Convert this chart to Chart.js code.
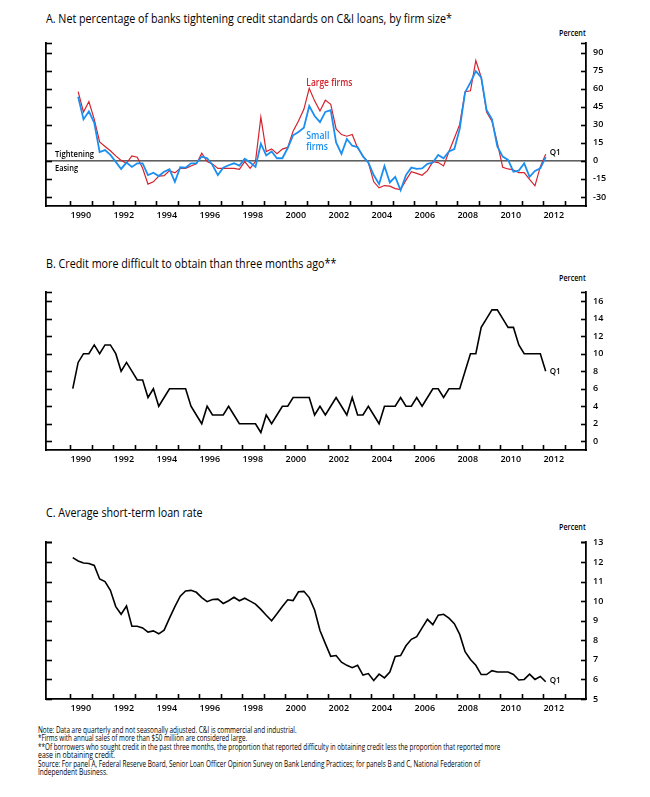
<!DOCTYPE html>
<html>
<head>
<meta charset="utf-8">
<script src="https://cdn.jsdelivr.net/npm/chart.js@4.4.1/dist/chart.umd.min.js"></script>
<style>
  body { margin: 0; background: #fff; width: 650px; height: 797px; position: relative; overflow: hidden; font-family: "Open Sans", sans-serif; color: #000; }
  canvas { position: absolute; left: 0; }
  .txt { position: absolute; white-space: nowrap; line-height: 1; transform-origin: left center; }
  .title { font-size: 12px; }
  .unit { font-size: 8.5px; font-weight: 600; }
  .note { font-family: "Liberation Sans Narrow", "Open Sans", sans-serif; font-size: 9px; }
</style>
</head>
<body>

<div class="txt title" style="left:46px" data-w="406" data-cy="19">A. Net percentage of banks tightening credit standards on C&amp;I loans, by firm size*</div>
<div class="txt unit" style="left:559px" data-w="27" data-cy="33">Percent</div>
<canvas id="chartA" width="650" height="200" style="top:25px"></canvas>

<div class="txt title" style="left:46px" data-w="290" data-cy="264">B. Credit more difficult to obtain than three months ago**</div>
<div class="txt unit" style="left:559px" data-w="27" data-cy="278">Percent</div>
<canvas id="chartB" width="650" height="190" style="top:280px"></canvas>

<div class="txt title" style="left:46px" data-w="157" data-cy="513">C. Average short-term loan rate</div>
<div class="txt unit" style="left:559px" data-w="27" data-cy="527">Percent</div>
<canvas id="chartC" width="650" height="190" style="top:530px"></canvas>

<div class="txt note" style="left:38px" data-w="259" data-cy="729">Note:  Data are quarterly and not seasonally adjusted.  C&amp;I is commercial and industrial.</div>
<div class="txt note" style="left:38px" data-w="209" data-cy="737.5">*Firms with annual sales of more than $50 million are considered large.</div>
<div class="txt note" style="left:38px" data-w="462" data-cy="746">**Of borrowers who sought credit in the past three months, the proportion that reported difficulty in obtaining credit less the proportion that reported more</div>
<div class="txt note" style="left:38px" data-w="77" data-cy="754.5">ease in obtaining credit.</div>
<div class="txt note" style="left:38px" data-w="442" data-cy="763">Source:  For panel A, Federal Reserve Board, Senior Loan Officer Opinion Survey on Bank Lending Practices; for panels B and C, National Federation of</div>
<div class="txt note" style="left:38px" data-w="70" data-cy="771.5">Independent Business.</div>

<script>
// panel A: net percentage tightening, quarterly from 1990 Q2 to 2012 Q1
const largeFirms = [57.5, 40.6, 49.3, 34.5, 15.7, 12, 8.4, 4.2, 0.3, -2,
  4.2, 3, -6.2, -19.3, -17.4, -12.6, -12.3, -8.1, -10, -6.2,
  -6.2, -4.2, -2.5, 6.4, -0.6, -2.5, -6.2, -6.2, -6.2, -6.2,
  -7, -0.6, -6.2, -0.6, 36.4, 7.8, 10, 5.9, 9.8, 11.2,
  24.7, 33.1, 42.9, 60.3, 49.9, 41.5, 50.5, 47.1, 26.6, 21.9,
  20.5, 21.9, 10.7, 4.2, -1.4, -17.4, -22.4, -20.5, -21, -23,
  -23.8, -16, -9, -10.4, -12, -8.1, -0.6, -1.4, -4.2, 7.8,
  18.8, 30.3, 57.5, 58.3, 83.5, 69.5, 40.6, 33.1, 14.9, -5.3,
  -6.7, -7.6, -9.8, -9.8, -15.4, -20.7, -4.8, 5.6];
const smallFirms = [53.3, 34.5, 41.2, 31.7, 7.3, 9, 5, -0.8, -6.7, -1.4,
  -5, -2, -2, -11.8, -9.8, -12.6, -9, -7, -17.4, -5.3,
  -5.6, -2, -2, 3.6, 2.2, -3.4, -11.8, -5.6, -3.6, -2,
  -3.9, 1.7, -1.4, -5, 14.3, 4.5, 7.8, 2.2, 2.2, 10.7,
  21.3, 24.1, 27.5, 45.7, 37.3, 32.2, 40.7, 42.1, 15.4, 5.9,
  18.2, 12.6, 11.5, 3.6, -1.4, -11.8, -19.3, -4.2, -17.9, -13.2,
  -24.4, -11.8, -5.6, -6.7, -6.2, -2.5, -1.4, 5, 2.2, 7.8,
  9.8, 26.6, 56.9, 65.3, 74.6, 69.5, 42.3, 34.5, 12.1, 3.6,
  0.8, -9, -8.1, -2, -13.2, -8.4, -6.2, 3.1];

// panel B: credit more difficult to obtain, 1990 Q1 to 2012 Q1
const creditHarder = [6, 9, 10, 10, 11, 10, 11, 11, 10, 8,
  9, 8, 7, 7, 5, 6, 4, 5, 6, 6,
  6, 6, 4, 3, 2, 4, 3, 3, 3, 4,
  3, 2, 2, 2, 2, 1, 3, 2, 3, 4,
  4, 5, 5, 5, 5, 3, 4, 3, 4, 5,
  4, 3, 5, 3, 3, 4, 3, 2, 4, 4,
  4, 5, 4, 4, 5, 4, 5, 6, 6, 5,
  6, 6, 6, 8, 10, 10, 13, 14, 15, 15,
  14, 13, 13, 11, 10, 10, 10, 10, 8];

// panel C: average short-term loan rate, 1990 Q1 to 2012 Q1
const loanRate = [12.22, 12.05, 11.95, 11.92, 11.82, 11.13, 11.0, 10.55, 9.72, 9.33,
  9.75, 8.72, 8.72, 8.63, 8.42, 8.48, 8.33, 8.52, 9.13, 9.72,
  10.25, 10.52, 10.55, 10.45, 10.18, 9.97, 10.08, 10.1, 9.88, 10.02,
  10.2, 10.02, 10.15, 10.0, 9.85, 9.58, 9.28, 9.0, 9.35, 9.72,
  10.07, 10.03, 10.48, 10.5, 10.18, 9.55, 8.5, 7.83, 7.18, 7.22,
  6.88, 6.72, 6.6, 6.72, 6.22, 6.3, 5.95, 6.27, 6.08, 6.38,
  7.17, 7.22, 7.72, 8.05, 8.18, 8.63, 9.07, 8.8, 9.28, 9.33,
  9.13, 8.85, 8.3, 7.42, 7.02, 6.72, 6.25, 6.25, 6.45, 6.38,
  6.38, 6.38, 6.25, 5.97, 6.0, 6.27, 6.0, 6.15, 5.88];

const yearLabels = [1990, 1992, 1994, 1996, 1998, 2000, 2002, 2004, 2006, 2008, 2010, 2012];
const yearMarks = [1990, 1991, 1992, 1993, 1994, 1995, 1996, 1997, 1998, 1999, 2000, 2001,
  2002, 2003, 2004, 2005, 2006, 2007, 2008, 2009, 2010, 2011, 2012, 2013];
const ticksA = [-30, -15, 0, 15, 30, 45, 60, 75, 90];
const ticksB = [0, 2, 4, 6, 8, 10, 12, 14, 16];
const ticksC = [5, 6, 7, 8, 9, 10, 11, 12, 13];

const RED = "#d4222c";
const BLUE = "#1b8ff0";
const FONT = "'Open Sans', sans-serif";

// quarter labels like "1990 Q2"
function quarterLabels(year, q, n) {
  let out = [];
  for (let i = 0; i < n; i++) {
    let k = q - 1 + i;
    out.push((year + Math.floor(k / 4)) + " Q" + (k % 4 + 1));
  }
  return out;
}
// mid-quarter position on the time axis
function quarterX(label) {
  let parts = label.split(" Q");
  return +parts[0] + (+parts[1] - 0.5) / 4;
}
function toPoints(labels, values) {
  return values.map((v, i) => ({ x: quarterX(labels[i]), y: v }));
}

const quartersA = quarterLabels(1990, 2, largeFirms.length);
const quartersBC = quarterLabels(1990, 1, creditHarder.length);

function line(ctx, x1, y1, x2, y2) {
  ctx.beginPath();
  ctx.moveTo(x1, y1);
  ctx.lineTo(x2, y2);
  ctx.stroke();
}

// text squeezed to a given width, left edge at x, vertically centred on y
function fitText(ctx, t, x, y, w, font, color) {
  ctx.save();
  ctx.font = font;
  ctx.fillStyle = color;
  ctx.textBaseline = "middle";
  ctx.textAlign = "left";
  let sx = w / ctx.measureText(t.text).width;
  ctx.translate(x, y);
  ctx.scale(sx, 1);
  ctx.fillText(t.text, 0, 0);
  ctx.restore();
}

const extras = {
  id: "extras",
  beforeDatasetsDraw(chart, args, opts) {
    if (!opts.zero) return;
    const a = chart.chartArea;
    const y = chart.scales.y.getPixelForValue(0);
    chart.ctx.save();
    chart.ctx.strokeStyle = "#000";
    chart.ctx.lineWidth = 1;
    line(chart.ctx, a.left, y, a.right, y);
    chart.ctx.restore();
  },
  afterDraw(chart, args, opts) {
    const ctx = chart.ctx;
    const a = chart.chartArea;
    const xs = chart.scales.x;
    const ys = chart.scales.y;
    ctx.save();
    ctx.strokeStyle = "#000";
    ctx.lineWidth = 1.6;
    // inward tick marks on both vertical axes, plus a cap at the top
    opts.yTicks.concat([ys.max]).forEach(v => {
      const y = Math.round(ys.getPixelForValue(v)) + 0.5;
      line(ctx, a.left, y, a.left + 6, y);
      line(ctx, a.right - 5, y, a.right, y);
    });
    yearMarks.forEach(yr => {
      const x = Math.round(xs.getPixelForValue(yr)) + 0.5;
      line(ctx, x, a.bottom, x, a.bottom - 5);
    });
    ctx.restore();
    (opts.labels || []).forEach(t => {
      let x, y;
      if (t.last !== undefined) {
        const pts = chart.getDatasetMeta(t.last).data;
        const p = pts[pts.length - 1];
        x = p.x + t.dx;
        y = p.y + t.dy;
      } else {
        x = xs.getPixelForValue(t.x);
        y = ys.getPixelForValue(t.y);
      }
      fitText(ctx, t, x, y, t.w, (t.weight || "normal") + " " + t.size + "px " + FONT, t.color || "#000");
    });
  }
};

function makeChart(id, datasets, yMin, yMax, yTicks, canvasTop, axisTop, axisBottom, canvasH, extraOpts) {
  const tickFont = { family: FONT, size: 9, weight: "600" };
  return new Chart(document.getElementById(id), {
    type: "line",
    data: { datasets: datasets },
    options: {
      responsive: false,
      animation: false,
      layout: { padding: { top: axisTop - canvasTop, left: 0, right: 0, bottom: 0 } },
      plugins: {
        legend: { display: false },
        tooltip: { enabled: false },
        extras: Object.assign({ yTicks: yTicks }, extraOpts)
      },
      elements: { point: { radius: 0 }, line: { tension: 0 } },
      scales: {
        x: {
          type: "linear",
          min: 1988.88,
          max: 2014,
          grid: { display: true, drawOnChartArea: false, drawTicks: false },
          border: { display: true, color: "#000", width: 1.8 },
          afterBuildTicks: axis => { axis.ticks = yearLabels.map(y => ({ value: y + 0.5 })); },
          afterFit: axis => { axis.height = canvasH - (axisBottom - canvasTop); },
          ticks: {
            autoSkip: false, maxRotation: 0, padding: 4, color: "#000", font: tickFont,
            callback: v => String(Math.round(v - 0.5))
          }
        },
        y: {
          position: "left",
          min: yMin,
          max: yMax,
          grid: { display: true, drawOnChartArea: false, drawTicks: false },
          border: { display: true, color: "#000", width: 1.8 },
          ticks: { display: false },
          afterFit: axis => { axis.width = 46; }
        },
        yR: {
          position: "right",
          min: yMin,
          max: yMax,
          grid: { display: true, drawOnChartArea: false, drawTicks: false },
          border: { display: true, color: "#000", width: 1.8 },
          afterBuildTicks: axis => { axis.ticks = yTicks.map(v => ({ value: v })); },
          afterFit: axis => { axis.width = 64; },
          ticks: { padding: 7, color: "#000", font: tickFont }
        }
      }
    },
    plugins: [extras]
  });
}

makeChart("chartA", [
  { data: toPoints(quartersA, smallFirms), borderColor: BLUE, borderWidth: 1.8, order: 0 },
  { data: toPoints(quartersA, largeFirms), borderColor: RED, borderWidth: 1.2, order: 1 }
], -37.5, 98, ticksA, 25, 43, 206, 200, {
  zero: true,
  labels: [
    { text: "Tightening", x: 1989.3, y: 5.0, w: 39, size: 9, weight: 600 },
    { text: "Easing", x: 1989.3, y: -5.9, w: 23, size: 9, weight: 600 },
    { text: "Large firms", x: 2000.99, y: 64.8, w: 46, size: 10, weight: 600, color: RED },
    { text: "Small", x: 2000.99, y: 20.2, w: 23, size: 10, weight: 600, color: BLUE },
    { text: "firms", x: 2000.99, y: 11.8, w: 21.5, size: 10, weight: 600, color: BLUE },
    { text: "Q1", last: 1, dx: 4, dy: -2, w: 11, size: 9, weight: 600 }
  ]
});

makeChart("chartB", [
  { data: toPoints(quartersBC, creditHarder), borderColor: "#000", borderWidth: 1.6 }
], -1, 17, ticksB, 280, 288, 450, 190, {
  labels: [{ text: "Q1", last: 0, dx: 4, dy: 0, w: 11, size: 9, weight: 600 }]
});

makeChart("chartC", [
  { data: toPoints(quartersBC, loanRate), borderColor: "#000", borderWidth: 1.6 }
], 5, 13, ticksC, 530, 538, 699, 190, {
  labels: [{ text: "Q1", last: 0, dx: 4, dy: -1, w: 11, size: 9, weight: 600 }]
});

// squeeze the html texts to the widths of the original lines
function fitHtml() {
  document.querySelectorAll(".txt").forEach(el => {
    let sx = +el.dataset.w / el.offsetWidth;
    el.style.transform = "scaleX(" + sx + ")";
    el.style.top = (+el.dataset.cy - el.offsetHeight / 2) + "px";
  });
}
fitHtml();
</script>
</body>
</html>
